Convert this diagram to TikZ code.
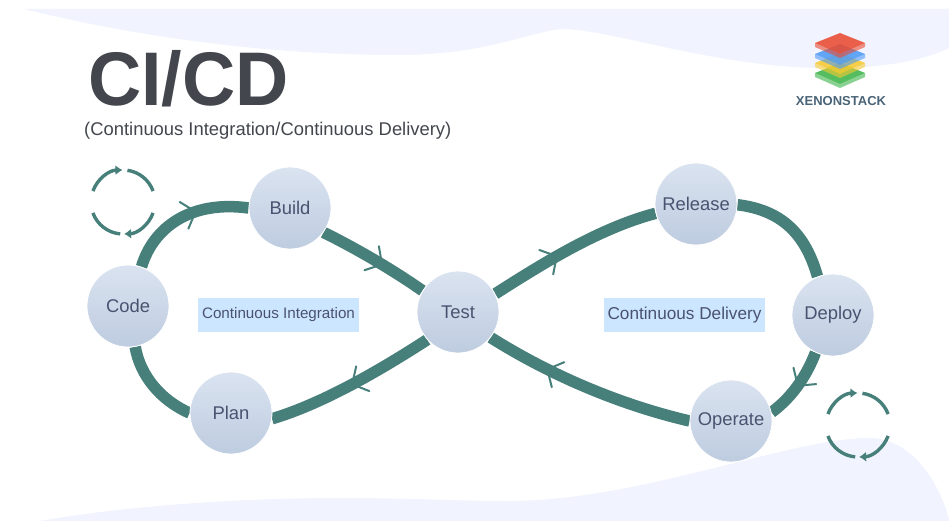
\documentclass[tikz,border=0pt]{standalone}
\usepackage{fontspec}
\setmainfont{Liberation Sans}
\usetikzlibrary{decorations.markings,arrows.meta,calc}
\pgfdeclarelayer{blob}
\pgfdeclarelayer{edges}
\pgfsetlayers{blob,edges,main}
\definecolor{teal}{HTML}{47807A}
\definecolor{ink}{HTML}{4A5270}
\definecolor{blobc}{HTML}{F1F4FE}
\definecolor{boxc}{HTML}{CCE6FF}
\definecolor{titlec}{HTML}{43464D}
\definecolor{logoc}{HTML}{4A6478}
\definecolor{redc}{HTML}{EA4B30}
\definecolor{bluec}{HTML}{4E9BF5}
\definecolor{yellowc}{HTML}{F7C92E}
\definecolor{greenc}{HTML}{3DB54A}
\definecolor{topg}{HTML}{DAE3F0}
\definecolor{botg}{HTML}{BECCE0}
\tikzset{
  stage/.style={circle,minimum size=82pt,inner sep=0pt,draw=white,line width=0.8pt,
    top color=topg,bottom color=botg,text=ink,font=\fontsize{18.4}{20}\selectfont},
  loopedge/.style={draw=teal,line width=11.5pt},
  flowtick/.style={postaction={decorate},decoration={markings,mark=at position #1 with {
    \draw[teal,line width=2pt,line cap=round] (-12,14)--(0,0)--(-12,-14);}}},
  band/.style={fill=boxc,minimum width=161pt,minimum height=34pt,inner sep=0pt,text=ink},
  cyc/.style={teal,line width=3.4pt},
  cych/.style={cyc,-{Latex[length=7pt,width=10pt]}}
}
\newcommand{\cycleicon}[2]{%
  \begin{scope}[shift={(#1,#2)}]
    \draw[cych] (160:32) arc (160:91:32);
    \draw[cyc] (82:32) arc (82:20:32);
    \draw[cyc] (200:32) arc (200:265:32);
    \draw[cych] (-20:32) arc (-20:-88:32);
  \end{scope}}
\begin{document}
\begin{tikzpicture}[x=1pt,y=1pt]
\useasboundingbox (0,0) rectangle (949,-521);
\begin{pgfonlayer}{blob}
\fill[white] (0,0) rectangle (949,-521);
\fill[blobc] (24,-9) .. controls (150,-40) and (280,-55) .. (398,-55)
  .. controls (490,-55) and (535,-29) .. (566,-29)
  .. controls (620,-32) and (720,-68) .. (826,-68)
  .. controls (880,-68) and (920,-62) .. (949,-48) -- (949,-9) -- cycle;
\fill[blobc] (40,-521) .. controls (130,-505) and (250,-498) .. (337,-498)
  .. controls (420,-498) and (450,-501) .. (508,-501)
  .. controls (640,-501) and (790,-438) .. (869,-438)
  .. controls (905,-438) and (935,-470) .. (949,-519) -- (949,-521) -- cycle;
\end{pgfonlayer}
% title
\node[anchor=west,inner sep=0pt,text=titlec,xscale=0.97,font=\fontsize{76}{78}\selectfont\bfseries] (title) at (88,-79) {CI/CD};
\node[anchor=west,inner sep=0pt,text=titlec,font=\fontsize{18.4}{20}\selectfont] (subtitle) at (84,-131) {(Continuous Integration/Continuous Delivery)};
% logo
\foreach \c/\col in {73/greenc,63/yellowc,54/bluec,43/redc}{
  \fill[\col,opacity=.6] (815,-\c) -- (840,-\c-11) -- (865,-\c) -- (865,-\c-4) -- (840,-\c-15) -- (815,-\c-4) -- cycle;
  \fill[\col,opacity=.88] (815,-\c) -- (840,-\c+10) -- (865,-\c) -- (840,-\c-11) -- cycle;
}
\node[inner sep=0pt,text=logoc,font=\fontsize{13}{15}\selectfont\bfseries] (brand) at (841,-101) {XENONSTACK};
% stages
\node[stage] (build) at (290,-208) {Build};
\node[stage] (code) at (128,-306) {Code};
\node[stage] (test) at (458,-312) {Test};
\node[stage] (plan) at (231,-413) {Plan};
\node[stage] (release) at (696,-204) {Release};
\node[stage] (deploy) at (833,-315) {Deploy};
\node[stage] (operate) at (731,-421) {Operate};
% bands
\node[band,font=\fontsize{15.2}{17}\selectfont] (ci) at (278.5,-315) {Continuous Integration};
\node[band,font=\fontsize{17.2}{19}\selectfont] (cd) at (684.5,-315) {Continuous Delivery};
% connectors
\begin{pgfonlayer}{edges}
\draw[loopedge,flowtick=0.6] (code.71) .. controls (153,-228) and (190,-200) .. (build.180);
\draw[loopedge,flowtick=0.58] (build.-36) .. controls (355,-248) and (390,-268) .. (test.149);
\draw[loopedge,flowtick=0.4] (test.26) .. controls (545,-262) and (600,-228) .. (release.193);
\draw[loopedge] (release.-1) .. controls (780,-210) and (805,-232) .. (deploy.112);
\draw[loopedge,flowtick=0.5] (deploy.245) .. controls (808,-372) and (795,-395) .. (operate.12);
\draw[loopedge,flowtick=0.7] (operate.180) .. controls (625,-406) and (555,-378) .. (test.-38);
\draw[loopedge,flowtick=0.5] (test.222) .. controls (385,-367) and (325,-403) .. (plan.-8);
\draw[loopedge] (plan.180) .. controls (160,-400) and (140,-375) .. (code.-80);
\end{pgfonlayer}
\cycleicon{123}{-202}
\cycleicon{858}{-425}
\end{tikzpicture}
\end{document}
